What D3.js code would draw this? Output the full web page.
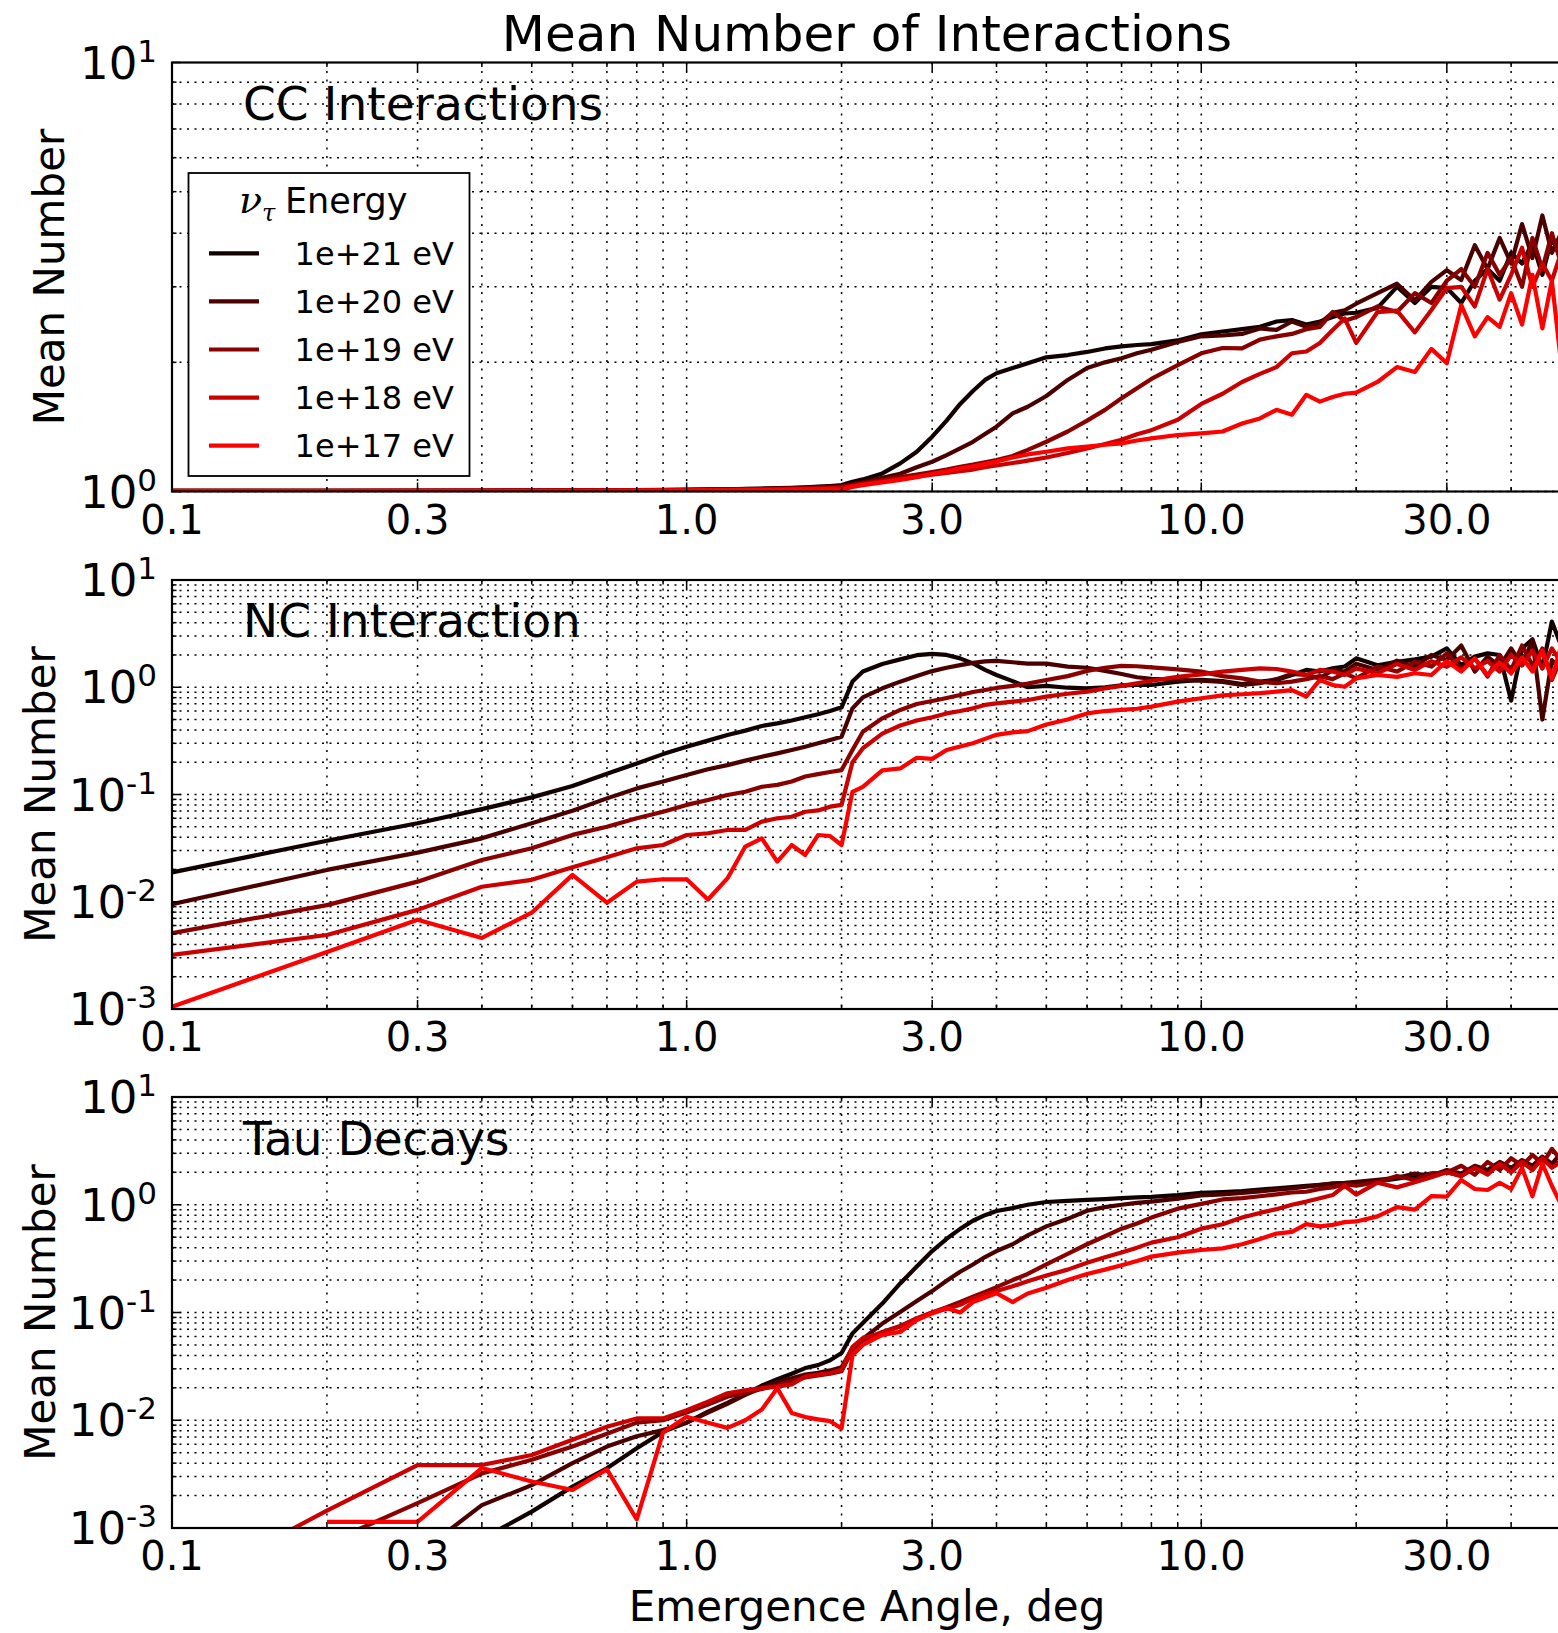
<!DOCTYPE html>
<html>
<head>
<meta charset="utf-8">
<script src="https://cdn.jsdelivr.net/npm/d3@7"></script>
<style>
  body { margin: 0; background: #fff; }
  text { font-family: "DejaVu Sans", sans-serif; fill: #000; }
</style>
</head>
<body>
<svg id="chart" width="1558" height="1633"></svg>
<script>
// emergence angles (deg) shared by every series
const angles = [
  0.1,0.2,0.3,0.4,0.5,0.6,0.7,0.8,0.9,1.0,
  1.1,1.2,1.3,1.4,1.5,1.6,1.7,1.8,1.9,2.0,
  2.1,2.2,2.4,2.6,2.8,3.0,3.2,3.4,3.6,3.8,
  4.0,4.3,4.6,5.0,5.5,6.0,6.5,7.0,7.5,8.0,
  9,10,11,12,13,14,15,16,17,18,
  19,20,22,24,26,28,30,32,34,36,
  38,40,42,44,46,48,50
];
const energies = ["1e+21 eV", "1e+20 eV", "1e+19 eV", "1e+18 eV", "1e+17 eV"];
const lineColors = ["#120000", "#4b0000", "#880000", "#cb0000", "#ff0000"];

const xTickValues = [0.1, 0.3, 1, 3, 10, 30];
const xTickLabels = ["0.1", "0.3", "1.0", "3.0", "10.0", "30.0"];

// CC interactions
const ccE21 = [
  1.004,1.004,1.005,1.005,1.006,1.006,1.007,1.008,1.009,1.010,
  1.011,1.012,1.014,1.016,1.018,1.020,1.023,1.026,1.030,1.035,
  1.054,1.067,1.102,1.163,1.238,1.342,1.463,1.600,1.715,1.820,
  1.886,1.940,1.990,2.055,2.080,2.115,2.155,2.180,2.195,2.205,
  2.250,2.325,2.360,2.390,2.420,2.490,2.510,2.450,2.490,2.550,
  2.600,2.610,2.680,3.000,2.750,3.000,2.980,2.750,3.100,3.300,
  3.100,3.600,3.400,3.800,3.200,3.900,3.500
];
const ccE20 = [
  1.004,1.004,1.004,1.005,1.005,1.006,1.006,1.007,1.008,1.009,
  1.010,1.011,1.013,1.015,1.017,1.019,1.021,1.024,1.027,1.030,
  1.040,1.050,1.077,1.100,1.139,1.173,1.216,1.261,1.306,1.362,
  1.416,1.521,1.576,1.670,1.820,1.940,2.000,2.045,2.100,2.140,
  2.230,2.300,2.310,2.330,2.400,2.380,2.490,2.420,2.470,2.610,
  2.645,2.740,2.900,3.050,2.790,3.080,3.280,3.110,3.750,3.300,
  3.900,3.400,4.200,3.500,4.400,3.600,4.000
];
const ccE19 = [
  1.003,1.003,1.004,1.004,1.005,1.005,1.006,1.006,1.007,1.008,
  1.009,1.010,1.011,1.013,1.015,1.017,1.019,1.021,1.023,1.025,
  1.035,1.045,1.065,1.080,1.095,1.110,1.125,1.142,1.155,1.170,
  1.184,1.210,1.250,1.306,1.380,1.463,1.550,1.650,1.740,1.830,
  1.970,2.100,2.160,2.155,2.260,2.300,2.330,2.390,2.420,2.620,
  2.500,2.550,2.700,2.620,2.900,2.750,3.100,3.300,3.000,3.600,
  3.200,3.500,3.000,3.900,3.300,4.000,3.400
];
const ccE18 = [
  1.003,1.003,1.003,1.004,1.004,1.005,1.005,1.006,1.006,1.007,
  1.008,1.009,1.010,1.011,1.012,1.013,1.015,1.016,1.018,1.020,
  1.030,1.040,1.055,1.070,1.083,1.095,1.105,1.115,1.125,1.140,
  1.150,1.165,1.180,1.200,1.230,1.260,1.290,1.320,1.360,1.390,
  1.470,1.600,1.690,1.800,1.880,1.950,2.100,2.120,2.220,2.380,
  2.530,2.220,2.620,2.640,2.350,2.650,2.980,3.000,2.700,3.300,
  2.800,3.200,3.700,3.000,3.400,3.100,3.600
];
const ccE17 = [
  1.002,1.002,1.003,1.003,1.003,1.004,1.004,1.004,1.005,1.005,
  1.006,1.006,1.007,1.008,1.009,1.010,1.011,1.012,1.012,1.010,
  1.025,1.035,1.050,1.064,1.080,1.100,1.115,1.133,1.145,1.160,
  1.175,1.200,1.220,1.238,1.260,1.272,1.285,1.295,1.315,1.330,
  1.354,1.366,1.380,1.440,1.480,1.550,1.510,1.680,1.620,1.660,
  1.690,1.700,1.800,1.950,1.900,2.150,1.990,2.720,2.300,2.550,
  2.420,2.900,2.450,3.200,2.400,3.100,2.000
];

// NC interaction
const ncE21 = [
  0.0188,0.037,0.054,0.073,0.094,0.120,0.156,0.195,0.238,0.279,
  0.318,0.359,0.394,0.435,0.460,0.490,0.525,0.560,0.600,0.650,
  1.130,1.400,1.650,1.820,1.990,2.050,2.000,1.860,1.670,1.450,
  1.300,1.140,1.000,1.030,0.990,0.975,1.000,1.040,1.050,1.050,
  1.130,1.170,1.140,1.070,1.130,1.170,1.300,1.450,1.400,1.500,
  1.560,1.860,1.600,1.730,1.820,1.930,2.300,1.600,1.930,2.070,
  2.000,0.750,2.300,2.800,1.500,4.100,2.450
];
const ncE20 = [
  0.0095,0.0198,0.0287,0.039,0.054,0.0706,0.092,0.114,0.132,0.152,
  0.172,0.188,0.207,0.225,0.242,0.260,0.279,0.300,0.322,0.345,
  0.636,0.805,0.977,1.128,1.270,1.415,1.520,1.610,1.690,1.740,
  1.760,1.710,1.660,1.660,1.556,1.520,1.420,1.330,1.240,1.200,
  1.170,1.150,1.120,1.050,1.090,1.190,1.330,1.300,1.210,1.450,
  1.400,1.660,1.450,1.770,1.560,2.000,1.790,2.450,1.400,1.930,
  1.560,2.300,1.600,2.750,0.500,1.790,1.450
];
const ncE19 = [
  0.0051,0.0093,0.0154,0.0245,0.0315,0.042,0.050,0.060,0.069,0.080,
  0.089,0.099,0.106,0.118,0.123,0.132,0.147,0.155,0.162,0.169,
  0.260,0.385,0.513,0.614,0.698,0.745,0.795,0.847,0.904,0.943,
  0.985,1.030,1.080,1.169,1.270,1.420,1.520,1.580,1.570,1.530,
  1.470,1.400,1.270,1.210,1.130,1.090,1.130,1.190,1.270,1.190,
  1.350,1.210,1.560,1.400,1.730,1.560,2.070,1.450,1.860,1.260,
  2.000,1.450,2.450,1.600,2.300,1.170,1.860
];
const ncE18 = [
  0.0032,0.0049,0.0084,0.0138,0.016,0.021,0.026,0.0315,0.0338,0.0419,
  0.0435,0.0467,0.0467,0.0558,0.060,0.062,0.069,0.071,0.077,0.080,
  0.200,0.270,0.370,0.440,0.490,0.525,0.570,0.600,0.636,0.684,
  0.708,0.734,0.761,0.817,0.870,0.910,0.977,1.030,1.090,1.150,
  1.250,1.320,1.400,1.450,1.500,1.480,1.400,1.300,1.450,1.400,
  1.300,1.500,1.350,1.650,1.450,1.750,1.550,1.900,1.500,1.750,
  1.400,2.000,1.600,2.200,1.500,2.300,1.700
];
const ncE17 = [
  0.00105,0.0034,0.0068,0.0046,0.0079,0.0178,0.0098,0.0154,0.0162,0.0162,
  0.0105,0.0165,0.0327,0.039,0.0237,0.0338,0.0273,0.0419,0.041,0.0338,
  0.106,0.118,0.168,0.175,0.220,0.215,0.260,0.280,0.300,0.330,
  0.360,0.380,0.390,0.450,0.500,0.570,0.600,0.615,0.630,0.660,
  0.734,0.790,0.840,0.860,0.880,0.910,0.940,0.820,1.170,1.050,
  1.010,1.210,1.300,1.250,1.350,1.300,1.750,1.400,1.850,1.300,
  1.700,1.350,1.900,1.400,2.200,1.200,2.400
];

// tau decays (null = no decays recorded)
const tauE21 = [
  null,null,null,0.00079,0.00142,0.00242,0.00358,0.0055,0.0078,0.0095,
  0.0120,0.0145,0.0175,0.021,0.024,0.027,0.0305,0.0325,0.036,0.042,
  0.064,0.080,0.121,0.186,0.267,0.372,0.483,0.597,0.710,0.800,
  0.875,0.930,1.000,1.060,1.085,1.110,1.130,1.150,1.170,1.185,
  1.230,1.290,1.310,1.340,1.380,1.420,1.460,1.500,1.530,1.560,
  1.570,1.560,1.650,1.750,1.850,1.950,2.000,1.850,2.200,2.050,
  2.350,2.150,2.450,2.200,2.600,2.300,2.500
];
const tauE20 = [
  null,null,0.00057,0.00163,0.0025,0.0040,0.0057,0.0071,0.0081,0.0095,
  0.0118,0.0142,0.0172,0.020,0.0225,0.0245,0.0265,0.0275,0.029,0.031,
  0.047,0.057,0.079,0.101,0.128,0.158,0.197,0.239,0.279,0.327,
  0.372,0.430,0.520,0.630,0.740,0.880,0.950,1.000,1.040,1.070,
  1.140,1.220,1.250,1.290,1.330,1.380,1.420,1.470,1.520,1.580,
  1.600,1.630,1.700,1.780,1.950,1.850,2.100,1.950,2.300,2.100,
  2.500,2.200,2.600,2.300,2.800,2.400,3.000
];
const tauE19 = [
  null,0.00072,0.0017,0.0032,0.0043,0.0057,0.0075,0.0095,0.0100,0.0118,
  0.0140,0.0165,0.0180,0.0195,0.0210,0.0230,0.0250,0.0260,0.0270,0.0285,
  0.045,0.055,0.066,0.075,0.088,0.100,0.112,0.125,0.140,0.155,
  0.172,0.200,0.228,0.280,0.350,0.430,0.510,0.600,0.670,0.760,
  0.920,1.020,1.120,1.150,1.200,1.250,1.300,1.320,1.400,1.450,
  1.550,1.500,1.620,1.850,1.700,1.950,2.000,2.300,1.900,2.500,
  2.100,2.700,2.300,2.900,2.400,3.300,2.600
];
const tauE18 = [
  0.00025,0.00145,0.00384,0.00384,0.00476,0.0066,0.0087,0.0104,0.0104,0.0124,
  0.0149,0.0178,0.0190,0.0199,0.0205,0.0215,0.0254,0.0265,0.0273,0.0294,
  0.048,0.058,0.065,0.074,0.088,0.100,0.108,0.118,0.135,0.147,
  0.158,0.175,0.195,0.220,0.250,0.290,0.325,0.360,0.400,0.445,
  0.500,0.600,0.660,0.760,0.840,0.910,1.000,1.070,1.150,1.230,
  1.500,1.240,1.600,1.450,1.620,1.800,2.000,1.850,2.200,1.900,
  2.400,2.000,2.500,2.100,2.700,2.200,2.500
];
const tauE17 = [
  null,0.00114,0.00114,0.0036,0.0027,0.00225,0.0035,0.0012,0.0077,0.0108,
  0.0095,0.0085,0.0100,0.0126,0.0198,0.0117,0.0107,0.0102,0.0098,0.0084,
  0.040,0.050,0.062,0.066,0.085,0.098,0.110,0.100,0.125,0.138,
  0.151,0.125,0.150,0.170,0.200,0.228,0.250,0.275,0.300,0.330,
  0.360,0.380,0.394,0.430,0.480,0.540,0.560,0.660,0.630,0.650,
  0.690,0.700,0.780,0.950,0.900,1.200,1.190,1.700,1.400,1.370,
  1.600,1.400,2.200,1.200,2.400,1.500,1.000
];

const svg = d3.select("#chart");
const left = 172, right = 1561;

const x = d3.scaleLog().domain([0.1, 50]).range([left, right]);

// all x grid positions: 0.1..0.9, 1..9, 10..50
let xGrid = [];
[0.1, 1, 10].forEach(function(d) {
  for (let k = 1; k <= 9; k++) {
    let v = +(k * d).toFixed(3);
    if (v <= 50) xGrid.push(v);
  }
});

const panels = [
  { title: "CC Interactions", top: 62.5, bottom: 491.5, domain: [1, 10],
    series: [ccE21, ccE20, ccE19, ccE18, ccE17], exps: [0, 1],
    titleY: 120, ylabelX: 64, legend: true },
  { title: "NC Interaction", top: 580, bottom: 1009, domain: [1e-3, 10],
    series: [ncE21, ncE20, ncE19, ncE18, ncE17], exps: [-3, -2, -1, 0, 1],
    titleY: 637, ylabelX: 55 },
  { title: "Tau Decays", top: 1097, bottom: 1528, domain: [1e-3, 10],
    series: [tauE21, tauE20, tauE19, tauE18, tauE17], exps: [-3, -2, -1, 0, 1],
    titleY: 1155, ylabelX: 55 }
];

panels.forEach(function(p, pi) {
  let y = d3.scaleLog().domain(p.domain).range([p.bottom, p.top]);
  let g = svg.append("g");

  // y grid positions
  let yGrid = [];
  for (let e = p.exps[0]; e < p.exps[p.exps.length - 1]; e++) {
    for (let k = 1; k <= 9; k++) yGrid.push(k * Math.pow(10, e));
  }

  //grid (dotted, both major and minor)
  g.selectAll(".gx").data(xGrid).enter().append("line")
    .attr("x1", d => x(d)).attr("x2", d => x(d))
    .attr("y1", p.top).attr("y2", p.bottom)
    .attr("stroke", "#000").attr("stroke-width", 1.5)
    .attr("stroke-dasharray", "2,6.5");
  g.selectAll(".gy").data(yGrid).enter().append("line")
    .attr("x1", left).attr("x2", right)
    .attr("y1", d => y(d)).attr("y2", d => y(d))
    .attr("stroke", "#000").attr("stroke-width", 1.5)
    .attr("stroke-dasharray", "2,5.5");

  // clip for lines
  svg.append("clipPath").attr("id", "clip" + pi)
    .append("rect").attr("x", left).attr("y", p.top)
    .attr("width", right - left).attr("height", p.bottom - p.top);

  let line = d3.line()
    .defined(d => d[1] != null)
    .x(d => x(d[0]))
    .y(d => y(d[1]));

  let lines = g.append("g").attr("clip-path", "url(#clip" + pi + ")");
  p.series.forEach(function(vals, si) {
    lines.append("path")
      .datum(angles.map((a, i) => [a, vals[i]]))
      .attr("d", line)
      .attr("fill", "none")
      .attr("stroke", lineColors[si])
      .attr("stroke-width", 4.2)
      .attr("stroke-linejoin", "round");
  });

  // ticks (inward, bottom + top + left)
  xGrid.forEach(function(v) {
    let len = xTickValues.indexOf(v) >= 0 ? 9 : 4.5;
    g.append("line").attr("x1", x(v)).attr("x2", x(v))
      .attr("y1", p.bottom).attr("y2", p.bottom - len)
      .attr("stroke", "#000").attr("stroke-width", 1.5);
    g.append("line").attr("x1", x(v)).attr("x2", x(v))
      .attr("y1", p.top).attr("y2", p.top + len)
      .attr("stroke", "#000").attr("stroke-width", 1.5);
  });
  yGrid.concat([p.domain[1]]).forEach(function(v) {
    let major = Math.abs(Math.log10(v) - Math.round(Math.log10(v))) < 1e-6;
    g.append("line").attr("x1", left).attr("x2", left + (major ? 9 : 4.5))
      .attr("y1", y(v)).attr("y2", y(v))
      .attr("stroke", "#000").attr("stroke-width", 1.5);
  });

  // frame
  g.append("rect").attr("x", left).attr("y", p.top)
    .attr("width", right - left).attr("height", p.bottom - p.top)
    .attr("fill", "none").attr("stroke", "#000").attr("stroke-width", 2.2);

  // x tick labels
  g.selectAll(".xl").data(xTickValues).enter().append("text")
    .attr("x", d => x(d)).attr("y", p.bottom + 42)
    .attr("text-anchor", "middle").attr("font-size", "40px")
    .text((d, i) => xTickLabels[i]);

  // y tick labels 10^n
  p.exps.forEach(function(e) {
    let t = g.append("text")
      .attr("x", 157).attr("y", y(Math.pow(10, e)) + 16)
      .attr("text-anchor", "end").attr("font-size", "45px");
    t.append("tspan").text("10");
    t.append("tspan").attr("dy", -17).attr("font-size", "31px").text(String(e));
  });

  // y label
  g.append("text")
    .attr("transform", "translate(" + p.ylabelX + "," + ((p.top + p.bottom) / 2) + ") rotate(-90)")
    .attr("text-anchor", "middle").attr("font-size", "42px")
    .text("Mean Number");

  // panel title
  g.append("text").attr("x", 243).attr("y", p.titleY)
    .attr("font-size", "47px").text(p.title);

  if (p.legend) {
    let lg = g.append("g");
    lg.append("rect").attr("x", 188.5).attr("y", 173)
      .attr("width", 281).attr("height", 303)
      .attr("fill", "#fff").attr("stroke", "#000").attr("stroke-width", 1.8);
    let lt = lg.append("text").attr("x", 239).attr("y", 213).attr("font-size", "35px");
    lt.append("tspan").attr("font-family", "DejaVu Serif").attr("font-style", "italic")
      .attr("font-size", "38px").text("ν");
    lt.append("tspan").attr("font-family", "DejaVu Serif").attr("font-style", "italic")
      .attr("font-size", "24px").attr("dy", 8).text("τ");
    lt.append("tspan").attr("x", 285).attr("dy", -8).text("Energy");
    energies.forEach(function(name, i) {
      let ly = 253.3 + i * 48.1;
      lg.append("line").attr("x1", 209).attr("x2", 259)
        .attr("y1", ly).attr("y2", ly)
        .attr("stroke", lineColors[i]).attr("stroke-width", 4.2);
      lg.append("text").attr("x", 294.6).attr("y", ly + 11.5)
        .attr("font-size", "32px").text(name);
    });
  }
});

// figure title and x label
svg.append("text").attr("x", 867).attr("y", 51)
  .attr("text-anchor", "middle").attr("font-size", "50px")
  .text("Mean Number of Interactions");
svg.append("text").attr("x", 867).attr("y", 1621)
  .attr("text-anchor", "middle").attr("font-size", "42px")
  .text("Emergence Angle, deg");
</script>
</body>
</html>
